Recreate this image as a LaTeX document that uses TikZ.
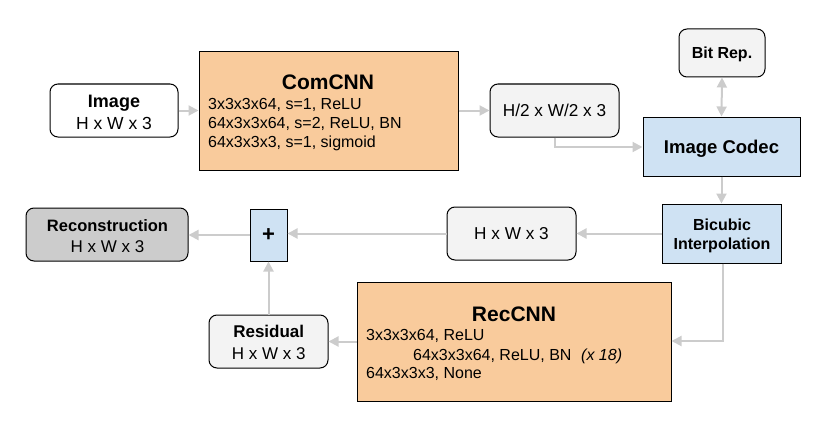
\documentclass[tikz,border=0pt]{standalone}
\usepackage{fontspec}
\setmainfont{Liberation Sans}
\usetikzlibrary{arrows.meta,positioning,calc}
\definecolor{orangefill}{HTML}{F9CB9C}
\definecolor{bluefill}{HTML}{CFE2F3}
\definecolor{lightfill}{HTML}{F3F3F3}
\definecolor{darkfill}{HTML}{CCCCCC}
\definecolor{arrowgray}{HTML}{CCCCCC}
\newcommand{\fs}[1]{\fontsize{#1}{#1}\selectfont}
\tikzset{
  boxbase/.style={draw=black, line width=1pt, inner sep=0pt, align=center, text=black, text depth=0pt},
  roundbox/.style={boxbase, rounded corners=8pt},
  cnnbox/.style={boxbase, fill=orangefill},
  bluebox/.style={boxbase, fill=bluefill},
  conn/.style={draw=arrowgray, line width=2pt, -{Triangle[length=10pt,width=10pt]}},
  biconn/.style={draw=arrowgray, line width=2pt, {Triangle[length=10pt,width=10pt]}-{Triangle[length=10pt,width=10pt]}},
  lbl/.style={inner sep=0pt, anchor=west, text=black},
  txt/.style={inner sep=0pt, anchor=base, text=black},
}
\begin{document}
\begin{tikzpicture}[x=1pt,y=-1pt]
\useasboundingbox (0,0) rectangle (830,436);
% Image
\node[roundbox, fill=white, minimum width=128pt, minimum height=53pt] (img) at (114,110.5) {};
\node[txt] (imgt) at (114,107.5) {\fs{18}\bfseries Image};
\node[txt] (imgd) at (114,129.3) {\fs{17.5}H x W x 3};
% ComCNN
\node[cnnbox, minimum width=259pt, minimum height=118pt] (com) at (328.5,111) {};
\node[inner sep=0pt] (comt) at (328,82) {\fs{21}\bfseries ComCNN};
\node[lbl] (com1) at (208,105) {\fs{16}3x3x3x64, s=1, ReLU};
\node[lbl] (com2) at (208,124) {\fs{16}64x3x3x64, s=2, ReLU, BN};
\node[lbl] (com3) at (208,143) {\fs{16}64x3x3x3, s=1, sigmoid};
% H/2
\node[roundbox, fill=lightfill, minimum width=129pt, minimum height=53pt] (half) at (554.5,110.5)
  {\fs{17.2}H/2 x W/2 x 3};
\node[roundbox, fill=lightfill, minimum width=86pt, minimum height=48pt] (bit) at (722,53)
  {\fs{16}\bfseries Bit Rep.};
\node[bluebox, minimum width=157pt, minimum height=59pt] (codec) at (721.5,146.5)
  {\fs{18.5}\bfseries Image Codec};
% Bicubic
\node[bluebox, minimum width=119pt, minimum height=59pt] (bic) at (721.5,233.5) {};
\node[txt] (bic1) at (722,230.7) {\fs{16}\bfseries Bicubic};
\node[txt] (bic2) at (722,249) {\fs{16}\bfseries Interpolation};
% middle
\node[roundbox, fill=lightfill, minimum width=129pt, minimum height=53pt] (mid) at (511.5,233.5)
  {\fs{17.2}H x W x 3};
\node[bluebox, minimum width=37pt, minimum height=52pt] (plus) at (268.5,235)
  {\fs{22}\bfseries +};
% Reconstruction
\node[roundbox, fill=darkfill, minimum width=162pt, minimum height=53pt] (rec) at (107,234.5) {};
\node[txt] (rect) at (107.5,231.6) {\fs{16.5}\bfseries Reconstruction};
\node[txt] (recd) at (107.5,252.8) {\fs{17}H x W x 3};
% Residual
\node[roundbox, fill=lightfill, minimum width=119pt, minimum height=53pt] (res) at (268.5,341.5) {};
\node[txt] (rest) at (268.7,337.8) {\fs{17}\bfseries Residual};
\node[txt] (resd) at (268.7,359.4) {\fs{17}H x W x 3};
% RecCNN
\node[cnnbox, minimum width=314pt, minimum height=119pt] (rcnn) at (514,341.5) {};
\node[inner sep=0pt] (rcnnt) at (514,314) {\fs{21}\bfseries RecCNN};
\node[lbl] (r1) at (366,336) {\fs{16}3x3x3x64, ReLU};
\node[lbl] (r2) at (413,356) {\fs{16}64x3x3x64, ReLU, BN};
\node[lbl] (r2b) at (581,356) {\fs{16}\itshape (x 18)};
\node[lbl] (r3) at (366,374) {\fs{16}64x3x3x3, None};
% connectors
\draw[conn] (img.east) -- (com.west |- img.east);
\draw[conn] (com.east |- half.west) -- (half.west);
\draw[conn] (half.south -| 555,0) -- (555,147) -- (codec.west |- 0,147);
\draw[biconn] (bit.south) -- (codec.north);
\draw[conn] (codec.south) -- (bic.north);
\draw[conn] (bic.west) -- (mid.east);
\draw[conn] (mid.west) -- (plus.east |- mid.west);
\draw[conn] (bic.south -| 723,0) -- (723,341) -- (rcnn.east |- 0,341);
\draw[conn] (rcnn.west |- res.east) -- (res.east);
\draw[conn] (res.north) -- (plus.south);
\draw[conn] (plus.west) -- (rec.east |- plus.west);
\end{tikzpicture}
\end{document}
